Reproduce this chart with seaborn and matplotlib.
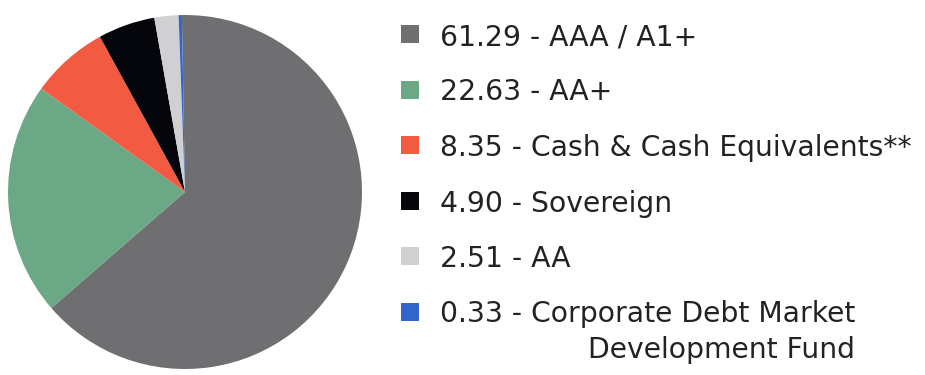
import matplotlib
matplotlib.use("Agg")
import matplotlib.pyplot as plt
import seaborn as sns

# rating split of the portfolio (% of net assets), as printed in the legend
values = [61.29, 22.63, 8.35, 4.90, 2.51, 0.33]
labels = ["AAA / A1+", "AA+", "Cash & Cash Equivalents**", "Sovereign", "AA",
          "Corporate Debt Market\nDevelopment Fund"]
pie_shares = [63.9, 21.3, 7.1, 5.2, 2.2, 0.3]
colors = ["#6f6f72", "#6aa886", "#f25b41", "#05050c", "#d0d0d2", "#3366cc"]

sns.set_theme(style="white")
plt.rcParams["font.family"] = ["DejaVu Sans"]
palette = sns.color_palette(colors)

fig = plt.figure(figsize=(9.25, 3.75), dpi=100)
W, H = 925, 375

# pie placed so the circle sits at the left of the picture
ax = fig.add_axes([8 / W, 6 / H, 354 / W, 354 / H])
ax.pie(pie_shares, colors=palette, startangle=91, counterclock=False,
       wedgeprops=dict(linewidth=0))
ax.set_xlim(-1, 1)
ax.set_ylim(-1, 1)
ax.set_aspect("auto")
ax.axis("off")

# hand-made legend on the right (pixel coordinates, y down)
lax = fig.add_axes([0, 0, 1, 1])
lax.set_xlim(0, W)
lax.set_ylim(H, 0)
lax.axis("off")
row_y0 = 35
row_step = 55.5
fs = 20.3
for i, (v, lab) in enumerate(zip(values, labels)):
    y = row_y0 + i * row_step
    lines = lab.split("\n")
    lax.scatter([410], [y - 1], marker="s", s=168, color=palette[i], linewidths=0)
    lax.text(440, y + 10, f"{v:.2f} - {lines[0]}", fontsize=fs, color="#222222",
             va="baseline", ha="left")
    for k, extra in enumerate(lines[1:], start=1):
        lax.text(588, y + 10 + k * 35, extra, fontsize=fs, color="#222222",
                 va="baseline", ha="left")

fig.savefig("out.png", dpi=100)
